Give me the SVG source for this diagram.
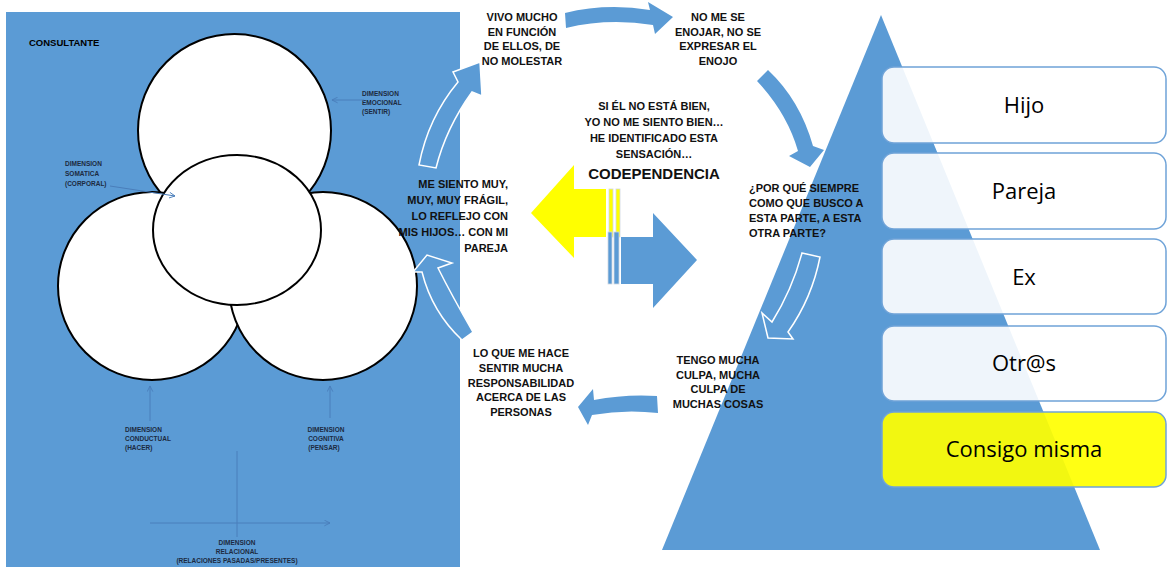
<svg xmlns="http://www.w3.org/2000/svg" width="1167" height="567" viewBox="0 0 1167 567">
  <style>
    .blue { fill: #5B9BD5; }
    .circ { fill: #ffffff; stroke: #000000; stroke-width: 2; }
    .small { font-family: "Liberation Sans", Arial, sans-serif; font-size: 6.5px; font-weight: bold; fill: #1c2a40; }
    .title { font-family: "Liberation Sans", Arial, sans-serif; font-size: 9.5px; font-weight: bold; fill: #000; }
    .cap { font-family: "Liberation Sans", Arial, sans-serif; font-size: 11px; font-weight: bold; fill: #111; }
    .big { font-family: "Liberation Sans", Arial, sans-serif; font-size: 15px; font-weight: bold; fill: #111; }
    .box { fill: #ffffff; fill-opacity: 0.9; stroke: #6FA3D8; stroke-width: 1.5; }
    .boxy { fill: #FFFF00; fill-opacity: 0.92; stroke: #6FA3D8; stroke-width: 1.5; }
    .boxtxt { font-family: "Open Sans", "Noto Sans", sans-serif; font-size: 22px; fill: #000; text-anchor: middle; }
    .ann { stroke: #4A7EBB; stroke-width: 1; fill: none; marker-end: url(#thin); }
    .flow { fill: #5B9BD5; }
    .flowo { fill: #5B9BD5; stroke: #ffffff; stroke-width: 1.5; stroke-linejoin: miter; }
    .strip { stroke: #d0d8e0; stroke-width: 0.8; }
  </style>
  <defs>
    <marker id="thin" viewBox="0 0 10 10" refX="9" refY="5" markerWidth="7" markerHeight="7" orient="auto" markerUnits="userSpaceOnUse">
      <path d="M1,1 L9,5 L1,9" fill="none" stroke="#4A7EBB" stroke-width="1.3"/>
    </marker>
  </defs>

  <rect width="1167" height="567" fill="#ffffff"/>

  <!-- left panel: the consultant's dimensions -->
  <g id="consultante">
    <rect x="6" y="12" width="454" height="555" class="blue"/>
    <text class="title" x="29" y="46">CONSULTANTE</text>
  </g>

  <g id="circles">
    <circle id="emocional" class="circ" cx="234.5" cy="130.5" r="96.5"/>
    <circle id="conductual" class="circ" cx="152" cy="286" r="94"/>
    <circle id="cognitiva" class="circ" cx="323" cy="286" r="94"/>
    <ellipse id="somatica" class="circ" cx="237" cy="230" rx="84" ry="75"/>
  </g>

  <g id="dimension-labels">
    <text class="small" x="362" y="96"><tspan x="362">DIMENSION</tspan><tspan x="362" dy="9">EMOCIONAL</tspan><tspan x="362" dy="9">(SENTIR)</tspan></text>
    <text class="small" x="65" y="166"><tspan x="65">DIMENSION</tspan><tspan x="65" dy="9.5">SOMATICA</tspan><tspan x="65" dy="10">(CORPORAL)</tspan></text>
    <text class="small" x="125" y="432"><tspan x="125">DIMENSION</tspan><tspan x="125" dy="9">CONDUCTUAL</tspan><tspan x="125" dy="9">(HACER)</tspan></text>
    <text class="small" text-anchor="middle" x="326" y="432"><tspan x="326">DIMENSION</tspan><tspan x="326" dy="9">COGNITIVA</tspan><tspan x="324" dy="9">(PENSAR)</tspan></text>
    <text class="small" text-anchor="middle" x="237" y="545"><tspan x="237">DIMENSION</tspan><tspan x="237" dy="9">RELACIONAL</tspan><tspan x="237" dy="9">(RELACIONES PASADAS/PRESENTES)</tspan></text>
  </g>

  <!-- pyramid of relationships -->
  <g id="pyramid">
    <polygon class="blue" points="881,15 1100,550 662,550"/>
  </g>

  <g id="levels">
    <g id="hijo"><rect class="box" x="882" y="67" width="284" height="76" rx="12"/><text class="boxtxt" x="1024" y="113">Hijo</text></g>
    <g id="pareja"><rect class="box" x="882" y="153" width="284" height="76" rx="12"/><text class="boxtxt" x="1024" y="199">Pareja</text></g>
    <g id="ex"><rect class="box" x="882" y="239" width="284" height="75" rx="12"/><text class="boxtxt" x="1024" y="285">Ex</text></g>
    <g id="otros"><rect class="box" x="882" y="326" width="284" height="75" rx="12"/><text class="boxtxt" x="1024" y="371">Otr@s</text></g>
    <g id="consigo"><rect class="boxy" x="882" y="412" width="284" height="75" rx="12"/><text class="boxtxt" x="1024" y="457">Consigo misma</text></g>
  </g>

  <!-- connectors -->
  <g id="connectors">
    <line class="ann" x1="364" y1="100" x2="332" y2="100"/>
    <line class="ann" x1="110" y1="186" x2="175" y2="196"/>
    <line class="ann" x1="150" y1="421" x2="150" y2="386"/>
    <line class="ann" x1="330" y1="418" x2="330" y2="386"/>
    <line x1="237" y1="451" x2="237" y2="537" stroke="#4A7EBB" stroke-width="1"/>
    <line class="ann" x1="150" y1="523" x2="330" y2="523"/>

    <path class="flow" d="M565,13 Q606,3 650,10 L648,2 L673,17 L655,34 L653,25 Q608,18 566,28 Z"/>
    <path class="flow" d="M768,70 Q800,100 813,146 L824,150 L810,167 L789,156 L798,151 Q787,113 757,81 Z"/>
    <path class="flow" d="M657,396 Q625,394 594,400 L593,389 L578,407 L588,425 L592,415 Q625,409 658,413 Z"/>
    <path class="flowo" d="M419,165 Q428,118 458,82 L453,72 L480,62 L482,96 L472,92 Q446,128 436,168 Z"/>
    <path class="flowo" d="M462,340 Q432,312 422,272 L413,272 L427,255 L452,263 L438,268 Q452,296 473,332 Z"/>
    <path class="flowo" d="M802,253 L820,257 Q812,298 788,332 L793,339 L768,338 L762,313 L772,322 Q792,290 802,253 Z"/>

    <g id="codependencia-arrows">
      <polygon fill="#FFFF00" points="531,213 574,165 574,189 606,189 606,237 574,237 574,258"/>
      <rect class="strip" fill="#FFFF00" x="609" y="189" width="4" height="48"/>
      <rect class="strip" fill="#FFFF00" x="616" y="189" width="4" height="48"/>
      <polygon fill="#5B9BD5" points="621,237 653,237 653,213 697,260 653,308 653,284 621,284"/>
      <rect class="strip" fill="#5B9BD5" x="608" y="232" width="4" height="52"/>
      <rect class="strip" fill="#5B9BD5" x="614" y="232" width="5" height="52"/>
    </g>
  </g>

  <!-- captions of the cycle -->
  <g id="cycle-texts">
    <text class="cap" text-anchor="middle" x="522" y="21"><tspan x="522">VIVO MUCHO</tspan><tspan x="522" dy="14.5">EN FUNCIÓN</tspan><tspan x="522" dy="14.5">DE ELLOS, DE</tspan><tspan x="522" dy="14.5">NO MOLESTAR</tspan></text>
    <text class="cap" text-anchor="middle" x="718" y="21"><tspan x="718">NO ME SE</tspan><tspan x="718" dy="14.5">ENOJAR, NO SE</tspan><tspan x="718" dy="14.5">EXPRESAR EL</tspan><tspan x="718" dy="14.5">ENOJO</tspan></text>
    <text class="cap" text-anchor="middle" x="654" y="110"><tspan x="654">SI ÉL NO ESTÁ BIEN,</tspan><tspan x="654" dy="16">YO NO ME SIENTO BIEN…</tspan><tspan x="654" dy="16">HE IDENTIFICADO ESTA</tspan><tspan x="654" dy="16">SENSACIÓN…</tspan></text>
    <text class="big" text-anchor="middle" x="654" y="179">CODEPENDENCIA</text>
    <text class="cap" text-anchor="end" x="508" y="188"><tspan x="508">ME SIENTO MUY,</tspan><tspan x="508" dy="16">MUY, MUY FRÁGIL,</tspan><tspan x="508" dy="16">LO REFLEJO CON</tspan><tspan x="508" dy="16">MIS HIJOS… CON MI</tspan><tspan x="508" dy="16">PAREJA</tspan></text>
    <text class="cap" x="749" y="192"><tspan x="749">¿POR QUÉ SIEMPRE</tspan><tspan x="749" dy="15">COMO QUE BUSCO A</tspan><tspan x="749" dy="15">ESTA PARTE, A ESTA</tspan><tspan x="749" dy="15">OTRA PARTE?</tspan></text>
    <text class="cap" text-anchor="middle" x="718" y="364"><tspan x="718">TENGO MUCHA</tspan><tspan x="718" dy="14.7">CULPA, MUCHA</tspan><tspan x="718" dy="14.7">CULPA DE</tspan><tspan x="718" dy="14.7">MUCHAS COSAS</tspan></text>
    <text class="cap" text-anchor="middle" x="521" y="357"><tspan x="521">LO QUE ME HACE</tspan><tspan x="521" dy="14.8">SENTIR MUCHA</tspan><tspan x="521" dy="14.8">RESPONSABILIDAD</tspan><tspan x="521" dy="14.8">ACERCA DE LAS</tspan><tspan x="521" dy="14.8">PERSONAS</tspan></text>
  </g>
</svg>
